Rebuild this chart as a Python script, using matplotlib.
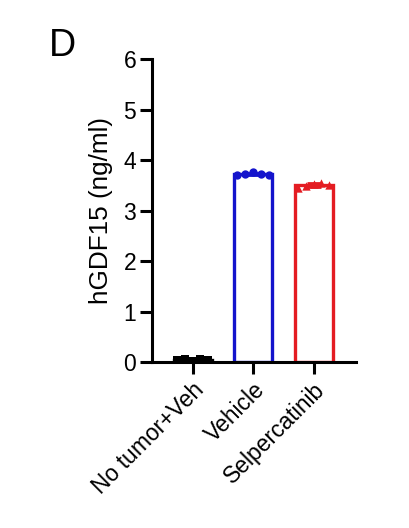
import numpy as np
import matplotlib
matplotlib.use("Agg")
import matplotlib.pyplot as plt

plt.rcParams["font.family"] = ["Liberation Sans", "DejaVu Sans"]

# datos
grupos = ["No tumor+Veh", "Vehicle", "Selpercatinib"]
no_tumor = [0.04, 0.06, 0.03, 0.07, 0.05]
vehicle = [3.70, 3.73, 3.76, 3.72, 3.71]
selper = [3.45, 3.48, 3.53, 3.55, 3.50]
valores = [no_tumor, vehicle, selper]
colores = ["black", "#1414cc", "#e41c22"]
marcadores = ["s", "o", "^"]

fig = plt.figure(figsize=(4.10, 5.28), dpi=100)
ax = fig.add_axes([0.371, 0.314, 0.497, 0.574])

ancho = 0.63
offsets = np.linspace(-0.26, 0.26, 5)
for i, (vals, c, m) in enumerate(zip(valores, colores, marcadores)):
    media = np.mean(vals)
    sd = np.std(vals, ddof=1)
    ax.bar(i, media, width=ancho, facecolor="none", edgecolor=c,
           linewidth=2.4, zorder=2)
    ax.errorbar(i, media, yerr=sd, color=c, capsize=5, elinewidth=2,
                capthick=2, zorder=3)
    ax.scatter(i + offsets, vals, color=c, marker=m, s=36, zorder=4,
               linewidths=0)

ax.set_xlim(-0.67, 2.7)
ax.set_ylim(0, 6)
ax.set_yticks(range(0, 7))
ax.set_xticks(range(len(grupos)))
ax.set_xticklabels(grupos, rotation=45, ha="right", rotation_mode="anchor")
ax.set_ylabel("hGDF15 (ng/ml)", fontsize=18.8)
ax.yaxis.set_label_coords(-0.19, 0.5)

for s in ["top", "right"]:
    ax.spines[s].set_visible(False)
for s in ["left", "bottom"]:
    ax.spines[s].set_linewidth(2.2)
ax.tick_params(axis="both", width=2.2, length=8.5, labelsize=16.5, pad=3)

fig.text(0.118, 0.913, "D", fontsize=27, va="center", ha="left")

fig.savefig("out.png", dpi=100)
